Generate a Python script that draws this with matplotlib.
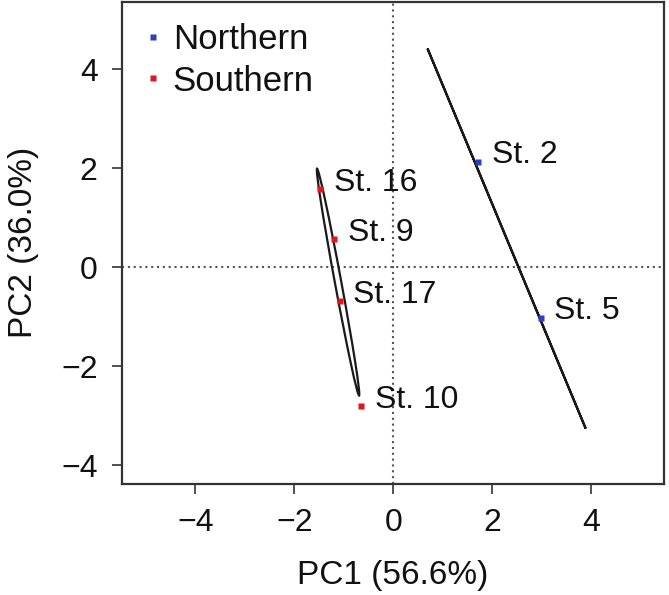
import matplotlib
matplotlib.use("Agg")
import matplotlib.pyplot as plt
from matplotlib.patches import Ellipse
from matplotlib.lines import Line2D

plt.rcParams['font.family'] = ['Liberation Sans', 'DejaVu Sans']

# ---- data ----
stations = ['St. 2', 'St. 5', 'St. 16', 'St. 9', 'St. 17', 'St. 10']
region = ['Northern', 'Northern', 'Southern', 'Southern', 'Southern', 'Southern']
pc1 = [1.72, 2.98, -1.47, -1.19, -1.08, -0.65]
pc2 = [2.13, -1.02, 1.58, 0.57, -0.68, -2.81]

groups = ['Northern', 'Southern']
group_colors = ['#2b3fc0', '#e3141c']
# confidence ellipses: centre x, centre y, major length, minor length, angle (deg)
ell_cx = [2.29, -1.115]
ell_cy = [0.58, -0.30]
ell_len = [8.32, 4.66]
ell_wid = [0.005, 0.13]
ell_ang = [-67.4, 100.5]

xticks = [-4, -2, 0, 2, 4]
yticks = [-4, -2, 0, 2, 4]
xlabel = 'PC1 (56.6%)'
ylabel = 'PC2 (36.0%)'

# ---- figure ----
fig = plt.figure(figsize=(6.69, 5.95), dpi=100)
ax = fig.add_axes([122 / 669, (595 - 483.5) / 595, (664 - 122) / 669, (483.5 - 2) / 595])
ax.set_xlim(-5.48, 5.47)
ax.set_ylim(-4.37, 5.36)

dot = (0, (1, 1.8))
ax.axhline(0, color='#555555', lw=1.5, linestyle=dot, zorder=1)
ax.axvline(0, color='#555555', lw=1.5, linestyle=dot, zorder=1)

for cx, cy, L, W, a in zip(ell_cx, ell_cy, ell_len, ell_wid, ell_ang):
    ax.add_patch(Ellipse((cx, cy), L, W, angle=a, fill=False,
                         edgecolor='#1a1a1a', lw=1.6, zorder=2))

cmap = dict(zip(groups, group_colors))
for x, y, r, s in zip(pc1, pc2, region, stations):
    ax.plot(x, y, marker='s', ms=5, color=cmap[r], mec='none', ls='none', zorder=3)
    ax.annotate(s, (x, y), xytext=(9.7, 4.6), textcoords='offset points',
                ha='left', va='center', fontsize=23, color='#111111', zorder=4)

handles = [Line2D([], [], marker='s', ms=5, color=c, mec='none', ls='none')
           for c in group_colors]
leg = ax.legend(handles, groups, loc='upper left', frameon=False, fontsize=25,
                handlelength=0.6, handletextpad=0.26, labelspacing=0.25,
                borderaxespad=0.25, borderpad=0.35)
for t in leg.get_texts():
    t.set_color('#111111')

ax.set_xticks(xticks)
ax.set_yticks(yticks)
ax.set_xticklabels([str(v).replace('-', '\u2212') for v in xticks])
ax.set_yticklabels([str(v).replace('-', '\u2212') for v in yticks])
ax.tick_params(direction='out', length=7.5, width=1.2, color='#333333',
               labelsize=23, labelcolor='#111111', pad=10)
for sp in ax.spines.values():
    sp.set_linewidth(1.6)
    sp.set_color('#333333')

ax.set_xlabel(xlabel, fontsize=24, color='#111111', labelpad=16)
ax.set_ylabel(ylabel, fontsize=24, color='#111111', labelpad=16)

fig.savefig('out.png', dpi=100)
